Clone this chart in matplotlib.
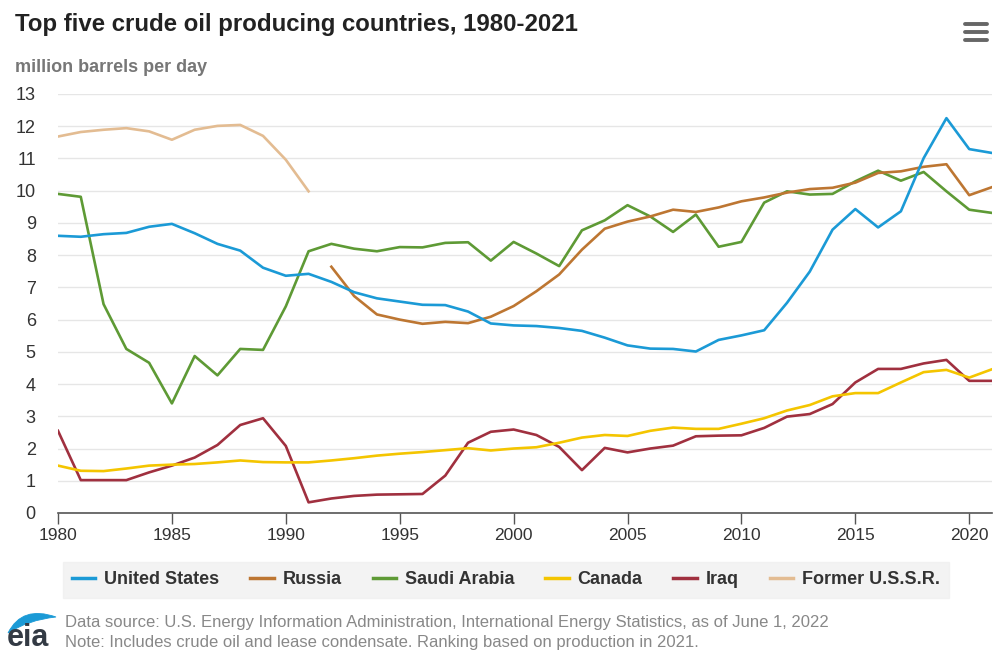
"""Top five crude oil producing countries, 1980-2021 (line chart)"""

import numpy as np
import matplotlib.pyplot as plt
from matplotlib.patches import PathPatch
from matplotlib.path import Path
from matplotlib.lines import Line2D

plt.rcParams["font.family"] = ["Liberation Sans", "DejaVu Sans"]

W, H = 993, 654

years = np.arange(1980, 2022)

united_states = [8.60, 8.57, 8.65, 8.69, 8.88, 8.97, 8.68, 8.35, 8.14, 7.61,
                 7.36, 7.42, 7.17, 6.85, 6.66, 6.56, 6.46, 6.45, 6.25, 5.88,
                 5.82, 5.80, 5.74, 5.65, 5.44, 5.20, 5.10, 5.09, 5.01, 5.37,
                 5.51, 5.67, 6.52, 7.49, 8.79, 9.43, 8.86, 9.36, 11.01, 12.25,
                 11.29, 11.17]
russia = [None] * 12 + [7.64, 6.73, 6.16, 6.00, 5.87, 5.93, 5.89, 6.09,
                        6.42, 6.88, 7.40, 8.17, 8.82, 9.04, 9.20, 9.41, 9.34,
                        9.48, 9.67, 9.79, 9.94, 10.05, 10.09, 10.25, 10.55,
                        10.60, 10.74, 10.82, 9.86, 10.11]
saudi_arabia = [9.90, 9.81, 6.48, 5.09, 4.66, 3.40, 4.87, 4.27, 5.09, 5.06,
                6.41, 8.12, 8.35, 8.20, 8.12, 8.25, 8.24, 8.38, 8.40, 7.83,
                8.41, 8.05, 7.66, 8.77, 9.08, 9.55, 9.20, 8.72, 9.26, 8.26,
                8.41, 9.63, 9.98, 9.88, 9.90, 10.29, 10.62, 10.31, 10.58, 9.98,
                9.41, 9.31]
canada = [1.47, 1.31, 1.30, 1.38, 1.47, 1.50, 1.52, 1.57, 1.63, 1.58,
          1.57, 1.57, 1.63, 1.70, 1.78, 1.84, 1.89, 1.95, 2.01, 1.94,
          2.00, 2.04, 2.18, 2.34, 2.42, 2.39, 2.55, 2.65, 2.61, 2.61,
          2.77, 2.94, 3.18, 3.35, 3.62, 3.72, 3.72, 4.05, 4.37, 4.44,
          4.20, 4.46]
iraq = [2.55, 1.02, 1.02, 1.02, 1.26, 1.47, 1.72, 2.11, 2.73, 2.94,
        2.08, 0.33, 0.45, 0.53, 0.57, 0.58, 0.59, 1.16, 2.18, 2.52,
        2.59, 2.42, 2.05, 1.33, 2.02, 1.88, 2.00, 2.09, 2.38, 2.40,
        2.41, 2.64, 2.99, 3.07, 3.38, 4.05, 4.47, 4.47, 4.64, 4.75,
        4.10, 4.10]
former_ussr = [11.68, 11.82, 11.89, 11.94, 11.84, 11.58, 11.89, 12.01, 12.04,
               11.70, 10.96, 9.98] + [None] * 30

series = [
    ("United States", united_states, "#1b9ad6"),
    ("Russia", russia, "#bd7632"),
    ("Saudi Arabia", saudi_arabia, "#5e9a35"),
    ("Canada", canada, "#f4c500"),
    ("Iraq", iraq, "#a0303f"),
    ("Former U.S.S.R.", former_ussr, "#e3bc92"),
]
ticks = [1980, 1985, 1990, 1995, 2000, 2005, 2010, 2015, 2020]


def px(x, y):
    """pixel position (from top-left) -> figure fraction"""
    return x / W, 1 - y / H


fig = plt.figure(figsize=(W / 100, H / 100), dpi=100)
ax = fig.add_axes([0.0584, 0.2156, 0.9406, 0.6407])

# draw in reverse so the early series sit on top
for name, vals, color in series[::-1]:
    v = np.array([np.nan if x is None else x for x in vals], dtype=float)
    ax.plot(years, v, color=color, lw=1.9, label=name, zorder=3)

ax.set_xlim(1980, 2021)
ax.set_ylim(0, 13)
ax.set_yticks(range(0, 14))
ax.set_xticks(ticks)
ax.grid(axis="y", color="#e6e6e6", lw=1)
ax.set_axisbelow(True)
for s in ["top", "right", "left"]:
    ax.spines[s].set_visible(False)
ax.spines["bottom"].set_color("#555555")
ax.spines["bottom"].set_linewidth(1.2)
ax.tick_params(axis="y", length=0, pad=16, labelsize=13, labelcolor="#333333")
ax.tick_params(axis="x", length=8, width=1, color="#555555", pad=3,
               labelsize=12.5, labelcolor="#333333")

fig.text(*px(15, 25), "Top five crude oil producing countries, 1980-2021",
         fontsize=17.3, fontweight="bold", color="#222222", va="center")
fig.text(*px(15, 67), "million barrels per day", fontsize=13,
         fontweight="bold", color="#777777", va="center")

# menu icon
for yy in (24, 32, 40):
    x0, y0 = px(965, yy)
    x1, _ = px(987, yy)
    fig.add_artist(Line2D([x0, x1], [y0, y0], color="#666666", lw=2.8,
                          solid_capstyle="round", transform=fig.transFigure))

handles = [Line2D([], [], color=c, lw=2.5) for _, _, c in series]
labels = [n for n, _, _ in series]
leg = fig.legend(handles, labels, loc="center", bbox_to_anchor=px(506, 580),
                 ncol=6, frameon=True, fancybox=False, facecolor="#f0f0f0",
                 edgecolor="#f0f0f0", fontsize=13, handlelength=1.3,
                 handletextpad=0.5, columnspacing=1.7, borderpad=0.5)
for t in leg.get_texts():
    t.set_color("#333333")
    t.set_fontweight("bold")

fig.text(*px(65, 622), "Data source: U.S. Energy Information Administration, "
         "International Energy Statistics, as of June 1, 2022",
         fontsize=12, color="#888888", va="center")
fig.text(*px(65, 643), "Note: Includes crude oil and lease condensate. "
         "Ranking based on production in 2021.",
         fontsize=12, color="#888888", va="center")

# eia logo: swoosh + letters
swoosh = [px(8, 633), px(22, 605), px(56, 617),
          px(28, 620), px(8, 633), px(8, 633)]
codes = [Path.MOVETO, Path.CURVE3, Path.CURVE3,
         Path.CURVE3, Path.CURVE3, Path.CLOSEPOLY]
fig.add_artist(PathPatch(Path(swoosh, codes), facecolor="#1b9ad6",
                         edgecolor="#1b9ad6", lw=0.6,
                         transform=fig.transFigure))
fig.text(*px(7, 646), "eia", fontsize=22, color="#333a44", va="baseline",
         fontweight="bold")

fig.savefig("out.png", dpi=100, facecolor="white")
